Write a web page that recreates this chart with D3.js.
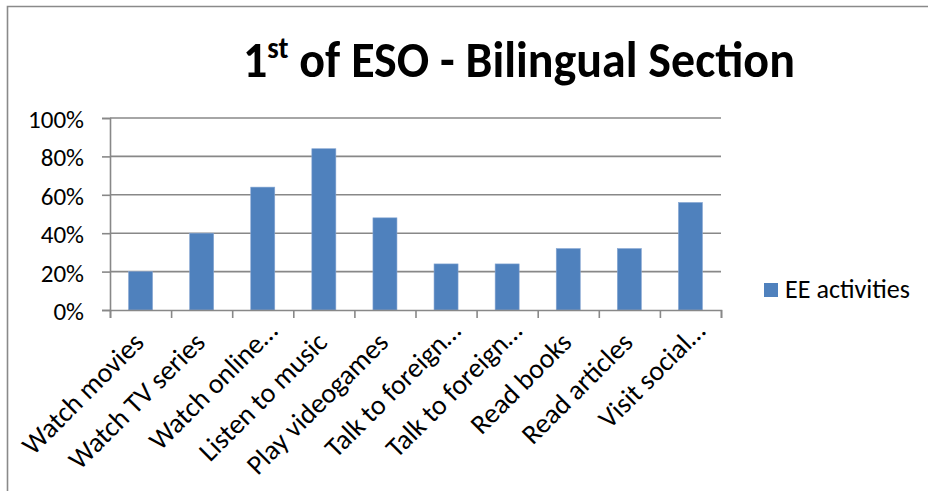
<!DOCTYPE html>
<html>
<head>
<meta charset="utf-8">
<script src="https://cdn.jsdelivr.net/npm/d3@7"></script>
<style>
  html, body { margin: 0; padding: 0; background: #fff; }
  svg { display: block; font-family: Carlito, Calibri, Lato, sans-serif; }
</style>
</head>
<body>
<svg id="chart" width="928" height="491"></svg>
<script>
// Share of students doing each English-exposure activity
const categories = [
  "Watch movies", "Watch TV series", "Watch online…", "Listen to music",
  "Play videogames", "Talk to foreign…", "Talk to foreign…", "Read books",
  "Read articles", "Visit social…"
];
const values = [0.20, 0.40, 0.64, 0.84, 0.48, 0.24, 0.24, 0.32, 0.32, 0.56];
const yTicks = [0, 0.2, 0.4, 0.6, 0.8, 1.0];
const seriesName = "EE activities";
const titleMain = "1";
const titleSup = "st";
const titleRest = " of ESO - Bilingual Section";

const svg = d3.select("#chart");
const W = 928, H = 491;
const plot = { left: 110, right: 721, top: 118, bottom: 310 };
const axisColor = "#888888";
const barColor = "#4F81BD";

// size a font so that a sample string spans a given width
function fitSize(text, weight, width) {
  const t = svg.append("text").attr("font-size", 100).attr("font-weight", weight).text(text);
  const w = t.node().getComputedTextLength();
  t.remove();
  return 100 * width / w;
}
const tickSize = fitSize("100%", "normal", 56);
const catSize = fitSize("Listen to music", "normal", 168);
const legSize = fitSize(seriesName, "normal", 125);

// outer chart frame (only top and left edges fall inside the view)
svg.append("path")
  .attr("d", `M7.5,${H} L7.5,6.5 L${W},6.5`)
  .attr("fill", "none").attr("stroke", "#8a8a8a").attr("stroke-width", 1.6);

const x = d3.scaleBand()
  .domain(d3.range(categories.length))
  .range([plot.left, plot.right])
  .paddingInner(0.607).paddingOuter(0.3035);
const xEdge = d3.scaleLinear().domain([0, categories.length]).range([plot.left, plot.right]);
const y = d3.scaleLinear().domain([0, 1]).range([plot.bottom, plot.top]);

// horizontal gridlines
svg.append("g").selectAll("line")
  .data(yTicks.filter(d => d > 0))
  .join("line")
  .attr("x1", plot.left).attr("x2", plot.right)
  .attr("y1", d => y(d)).attr("y2", d => y(d))
  .attr("stroke", axisColor).attr("stroke-width", 1.6);

// bars
svg.append("g").selectAll("rect")
  .data(values)
  .join("rect")
  .attr("x", (d, i) => x(i))
  .attr("width", x.bandwidth())
  .attr("y", d => y(d))
  .attr("height", d => y(0) - y(d))
  .attr("fill", barColor)
  .attr("stroke", "#86a6d2").attr("stroke-width", 0.6);

// value axis
const yAxis = svg.append("g")
  .attr("transform", `translate(${plot.left},0)`)
  .call(d3.axisLeft(y).tickValues(yTicks).tickFormat(d3.format(".0%")).tickSize(8).tickPadding(18));
yAxis.select(".domain").attr("stroke", axisColor).attr("stroke-width", 1.6);
yAxis.selectAll(".tick line").attr("stroke", axisColor).attr("stroke-width", 1.6);
yAxis.selectAll(".tick text")
  .attr("font-family", "Carlito, Calibri, Lato, sans-serif")
  .attr("font-size", tickSize).attr("fill", "#000").attr("dy", "0.38em");

// category axis (ticks between categories)
const xAxis = svg.append("g")
  .attr("transform", `translate(0,${plot.bottom})`)
  .call(d3.axisBottom(xEdge).tickValues(d3.range(categories.length + 1)).tickSize(8).tickFormat(""));
xAxis.select(".domain").attr("stroke", axisColor).attr("stroke-width", 1.6);
xAxis.selectAll(".tick line").attr("stroke", axisColor).attr("stroke-width", 1.6);

// rotated category labels
svg.append("g").selectAll("text")
  .data(categories)
  .join("text")
  .attr("transform", (d, i) => `translate(${x(i) + x.bandwidth() / 2 + 5},${plot.bottom + 34}) rotate(-45)`)
  .attr("dx", d => d.endsWith("…") ? 16 : 0)
  .attr("text-anchor", "end")
  .attr("font-size", catSize)
  .attr("fill", "#000")
  .text(d => d);

// title with superscript
const title = svg.append("text")
  .attr("font-weight", "bold").attr("fill", "#000")
  .attr("x", 0).attr("y", 0).attr("font-size", 100);
title.append("tspan").text(titleMain);
title.append("tspan").attr("font-size", 60).attr("dy", -38).text(titleSup);
title.append("tspan").attr("dy", 38).text(titleRest);
const tw = title.node().getBBox().width;
const k = 552 / tw;
title.attr("transform", `translate(243,77) scale(${k},${k * 1.06})`);

// legend
const leg = svg.append("g").attr("transform", "translate(764,283)");
leg.append("rect").attr("width", 14).attr("height", 14).attr("fill", barColor);
leg.append("text").attr("x", 21).attr("y", 15)
  .attr("font-size", legSize).attr("fill", "#000").text(seriesName);
</script>
</body>
</html>
